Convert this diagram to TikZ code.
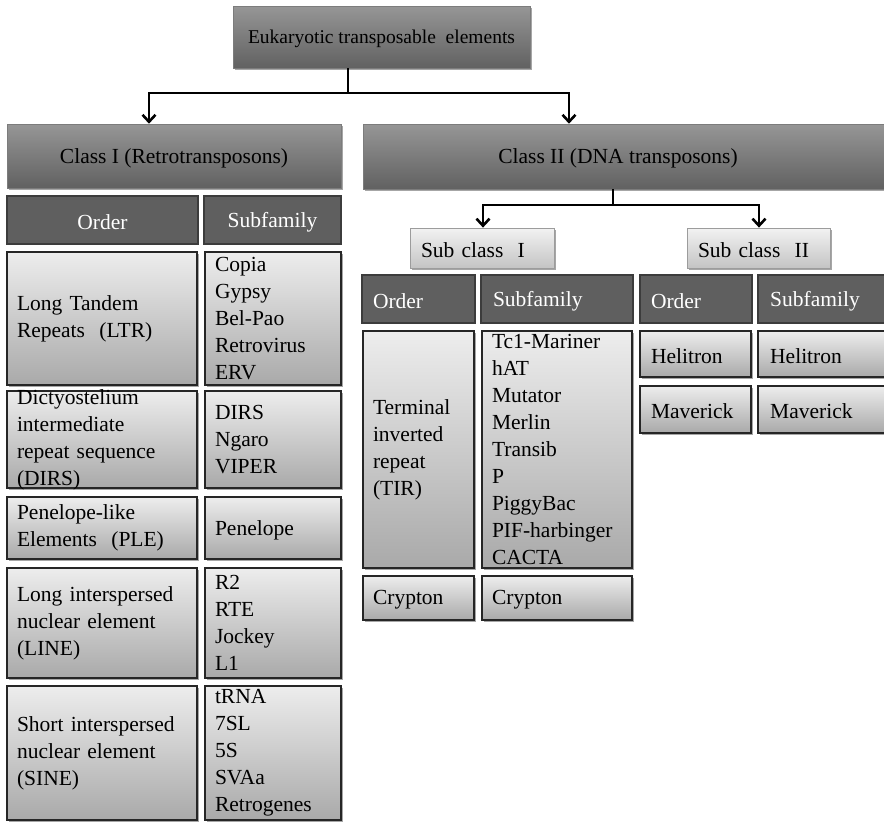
\documentclass[tikz,border=0pt]{standalone}
\usepackage{fontspec}
\setmainfont{Liberation Serif}
\usetikzlibrary{arrows.meta,shadows}

\definecolor{darktop}{HTML}{969696}
\definecolor{darkbot}{HTML}{616161}
\definecolor{darkedge}{HTML}{7C7C7C}
\definecolor{headfill}{HTML}{5F5F5F}
\definecolor{headedge}{HTML}{3C3C3C}
\definecolor{celltop}{HTML}{EDEDED}
\definecolor{cellbot}{HTML}{A9A9A9}
\definecolor{celledge}{HTML}{262626}
\definecolor{subtop}{HTML}{F2F2F2}
\definecolor{subbot}{HTML}{C4C4C4}
\definecolor{subedge}{HTML}{9C9C9C}

\tikzset{
  every node/.style={font=\fontsize{21.5}{27}\selectfont, inner sep=0pt},
  softshadow/.style={drop shadow={shadow xshift=2pt, shadow yshift=-2pt, opacity=0.35, fill=black}},
  classbox/.style={draw=darkedge, line width=0.6pt, top color=darktop, bottom color=darkbot, softshadow},
  headbox/.style={draw=headedge, line width=1.3pt, fill=headfill},
  cellbox/.style={draw=celledge, line width=1.2pt, top color=celltop, bottom color=cellbot, softshadow},
  subbox/.style={draw=subedge, line width=0.8pt, top color=subtop, bottom color=subbot, softshadow},
  txt/.style={align=left},
  ctxt/.style={align=center},
  oneline/.style={yshift=-2pt},
  headtxt/.style={text=white},
  link/.style={draw=black, line width=2.6pt},
  arr/.style={link, -{Straight Barb[length=7pt,width=13pt]}},
}

\begin{document}
\begin{tikzpicture}[x=1pt,y=-1pt]
\useasboundingbox (0,0) rectangle (884,822);
\clip (0,0) rectangle (884,822);

% ---- root and the two classes ----
\node[classbox, minimum width=297pt, minimum height=62pt] (root) at (381.5,37) {};
\node[ctxt, oneline, font=\fontsize{19.5}{23}\selectfont] (root-t) at (root.center) {Eukaryotic transposable\ \ elements};

\node[classbox, minimum width=334pt, minimum height=64pt] (cls1) at (174,156) {};
\node[ctxt, oneline] (cls1-t) at (cls1.center) {Class I (Retrotransposons)};

\node[classbox, minimum width=537pt, minimum height=65pt] (cls2) at (631.5,156.5) {};
\node[ctxt, oneline] (cls2-t) at (618,156.5) {Class II (DNA transposons)};

% branching from the root
\coordinate (j1) at (348,93);
\coordinate (a1) at (149,0);
\coordinate (a2) at (569,0);
\draw[link] (root.south -| j1) -- (j1);
\draw[arr] (j1) -| (cls1.north -| a1);
\draw[arr] (j1) -| (cls2.north -| a2);

% ---- Class I table ----
\node[headbox, minimum width=191pt, minimum height=48pt] (h1o) at (102.5,220) {};
\node[ctxt, oneline, headtxt] (h1o-t) at (h1o.center) {Order};
\node[headbox, minimum width=137pt, minimum height=48pt] (h1s) at (272.5,220) {};
\node[ctxt, oneline, headtxt] (h1s-t) at (h1s.center) {Subfamily};

% LTR
\node[cellbox, minimum width=190pt, minimum height=133pt] (ltro) at (102,318.5) {};
\node[txt, text width=170pt] (ltro-t) at (ltro.center) {Long Tandem\\Repeats\ \ (LTR)};
\node[cellbox, minimum width=136pt, minimum height=133pt] (ltrs) at (273,318.5) {};
\node[txt, text width=116pt] (ltrs-t) at (ltrs.center) {Copia\\Gypsy\\Bel-Pao\\Retrovirus\\ERV};

% DIRS
\node[cellbox, minimum width=190pt, minimum height=97pt] (dirso) at (102,439.5) {};
\node[txt, text width=170pt] (dirso-t) at (dirso.center) {Dictyostelium\\intermediate\\repeat sequence\\(DIRS)};
\node[cellbox, minimum width=136pt, minimum height=97pt] (dirss) at (273,439.5) {};
\node[txt, text width=116pt] (dirss-t) at (dirss.center) {DIRS\\Ngaro\\VIPER};

% PLE
\node[cellbox, minimum width=190pt, minimum height=62pt] (pleo) at (102,528) {};
\node[txt, text width=170pt] (pleo-t) at (pleo.center) {Penelope-like\\Elements\ \ (PLE)};
\node[cellbox, minimum width=136pt, minimum height=62pt] (ples) at (273,528) {};
\node[txt, oneline, text width=116pt] (ples-t) at (ples.center) {Penelope};

% LINE
\node[cellbox, minimum width=190pt, minimum height=110pt] (lineo) at (102,623) {};
\node[txt, text width=170pt] (lineo-t) at (lineo.center) {Long interspersed\\nuclear element\\(LINE)};
\node[cellbox, minimum width=136pt, minimum height=110pt] (lines) at (273,623) {};
\node[txt, text width=116pt] (lines-t) at (lines.center) {R2\\RTE\\Jockey\\L1};

% SINE
\node[cellbox, minimum width=190pt, minimum height=134pt] (sineo) at (102,753) {};
\node[txt, text width=170pt] (sineo-t) at (sineo.center) {Short interspersed\\nuclear element\\(SINE)};
\node[cellbox, minimum width=136pt, minimum height=134pt] (sines) at (273,753) {};
\node[txt, text width=116pt] (sines-t) at (sines.center) {tRNA\\7SL\\5S\\SVAa\\Retrogenes};

% ---- Class II: sub classes ----
\node[subbox, minimum width=144pt, minimum height=40pt] (sub1) at (482,248) {};
\node[txt, oneline, text width=122pt] (sub1-t) at (sub1.center) {Sub class\ \ I};
\node[subbox, minimum width=143pt, minimum height=40pt] (sub2) at (758.5,248) {};
\node[txt, oneline, text width=121pt] (sub2-t) at (sub2.center) {Sub class\ \ II};

\coordinate (j2) at (613,205);
\coordinate (b1) at (483,0);
\coordinate (b2) at (759,0);
\draw[link] (cls2.south -| j2) -- (j2);
\draw[arr] (j2) -| (sub1.north -| b1);
\draw[arr] (j2) -| (sub2.north -| b2);

% ---- Sub class I table ----
\node[headbox, minimum width=113pt, minimum height=48pt] (h2o) at (418.5,299) {};
\node[txt, oneline, headtxt, text width=91pt] (h2o-t) at (h2o.center) {Order};
\node[headbox, minimum width=152pt, minimum height=48pt] (h2s) at (557,299) {};
\node[txt, oneline, headtxt, text width=128pt] (h2s-t) at (h2s.center) {Subfamily};

\node[cellbox, minimum width=111pt, minimum height=237pt] (tiro) at (418.5,449.5) {};
\node[txt, text width=91pt] (tiro-t) at (tiro.center) {Terminal\\inverted\\repeat\\(TIR)};
\node[cellbox, minimum width=150pt, minimum height=237pt] (tirs) at (557,449.5) {};
\node[txt, text width=130pt] (tirs-t) at (tirs.center) {Tc1-Mariner\\hAT\\Mutator\\Merlin\\Transib\\P\\PiggyBac\\PIF-harbinger\\CACTA};

\node[cellbox, minimum width=111pt, minimum height=44pt] (cryo) at (418.5,598) {};
\node[txt, oneline, text width=91pt] (cryo-t) at (cryo.center) {Crypton};
\node[cellbox, minimum width=150pt, minimum height=44pt] (crys) at (557,598) {};
\node[txt, oneline, text width=130pt] (crys-t) at (crys.center) {Crypton};

% ---- Sub class II table ----
\node[headbox, minimum width=112pt, minimum height=48pt] (h3o) at (696,299) {};
\node[txt, oneline, headtxt, text width=90pt] (h3o-t) at (h3o.center) {Order};
\node[headbox, minimum width=142pt, minimum height=48pt] (h3s) at (829,299) {};
\node[anchor=west, oneline, headtxt] (h3s-t) at (770,299) {Subfamily};

\node[cellbox, minimum width=111pt, minimum height=46pt] (helo) at (695.5,354) {};
\node[txt, oneline, text width=89pt] (helo-t) at (helo.center) {Helitron};
\node[cellbox, minimum width=142pt, minimum height=46pt] (hels) at (829,354) {};
\node[anchor=west, oneline] (hels-t) at (770,354) {Helitron};

\node[cellbox, minimum width=111pt, minimum height=47pt] (mavo) at (695.5,409.5) {};
\node[txt, oneline, text width=89pt] (mavo-t) at (mavo.center) {Maverick};
\node[cellbox, minimum width=142pt, minimum height=47pt] (mavs) at (829,409.5) {};
\node[anchor=west, oneline] (mavs-t) at (770,409.5) {Maverick};
\end{tikzpicture}
\end{document}
